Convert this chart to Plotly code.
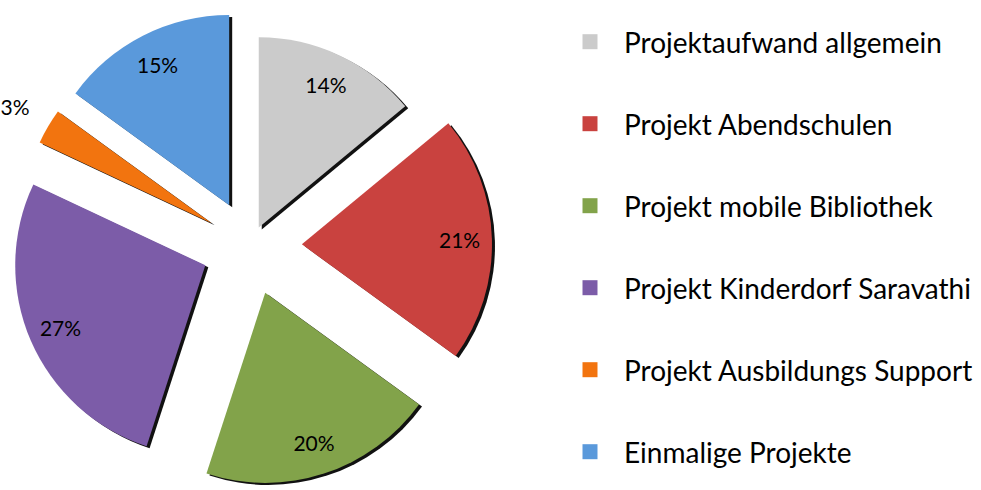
import plotly.graph_objects as go

categories = ["Projektaufwand allgemein", "Projekt Abendschulen", "Projekt mobile Bibliothek",
              "Projekt Kinderdorf Saravathi", "Projekt Ausbildungs Support", "Einmalige Projekte"]
values = [14, 21, 20, 27, 3, 15]
colors = ["#CBCBCB", "#C9423F", "#82A34A", "#7C5CA8", "#F2740F", "#5A99DB"]
pulls = [0.108, 0.273, 0.259, 0.256, 0.234, 0.241]
text_pos = ["inside", "inside", "inside", "inside", "outside", "inside"]

W, H = 981, 490
FONT = "Lato"

main_x = [0, 500 / W]
main_y = [2 / H, 486 / H]
sx, sy = 3, 2
shadow_x = [sx / W, (500 + sx) / W]
shadow_y = [(2 - sy) / H, (486 - sy) / H]

# the small outside label sits a bit further out (up-left) than plotly's default
templates = ["%{percent:.0%}" if p == "inside" else "%{percent:.0%}\u00a0<br>\u00a0"
             for p in text_pos]

fig = go.Figure()

# shadow
fig.add_trace(go.Pie(
    labels=categories, values=values, pull=pulls, sort=False, direction="clockwise",
    rotation=0, domain=dict(x=shadow_x, y=shadow_y),
    marker=dict(colors=["#111111"] * len(values), line=dict(width=0)),
    textinfo="none", showlegend=False, hoverinfo="skip",
))
# slices
fig.add_trace(go.Pie(
    labels=categories, values=values, pull=pulls, sort=False, direction="clockwise",
    rotation=0, domain=dict(x=main_x, y=main_y),
    marker=dict(colors=colors, line=dict(width=0)),
    textinfo="none", showlegend=False,
))
# labels (transparent ring, puts text toward the outer part of each slice)
fig.add_trace(go.Pie(
    labels=categories, values=values, pull=pulls, sort=False, direction="clockwise",
    rotation=0, domain=dict(x=main_x, y=main_y), hole=0.66,
    marker=dict(colors=["rgba(0,0,0,0)"] * len(values), line=dict(width=0)),
    texttemplate=templates, textposition=text_pos,
    insidetextorientation="horizontal",
    textfont=dict(family=FONT, size=21, color="black"),
    showlegend=False, hoverinfo="skip",
))

# legend entries: one small legend per category, stacked down the right side
legend_layout = {}
first_y, step = 42, 82
for i, (cat, col) in enumerate(zip(categories, colors)):
    lname = "legend" if i == 0 else f"legend{i + 1}"
    fig.add_trace(go.Scatter(
        x=[None], y=[None], mode="markers", name=cat, legend=lname,
        marker=dict(symbol="square", size=15, color=col),
    ))
    legend_layout[lname] = dict(
        x=556 / W, y=1 - (first_y + step * i) / H, xanchor="left", yanchor="middle",
        font=dict(family=FONT, size=28, color="black"),
        itemsizing="trace", itemwidth=58, bgcolor="rgba(0,0,0,0)",
    )

fig.update_layout(
    width=W, height=H,
    margin=dict(l=0, r=0, t=0, b=0, autoexpand=False),
    paper_bgcolor="white", plot_bgcolor="white",
    xaxis=dict(visible=False), yaxis=dict(visible=False),
    showlegend=True,
    font=dict(family=FONT),
    **legend_layout,
)

fig.write_html("out.html", config={"displayModeBar": False},
               post_script="document.body.style.margin='0';")
